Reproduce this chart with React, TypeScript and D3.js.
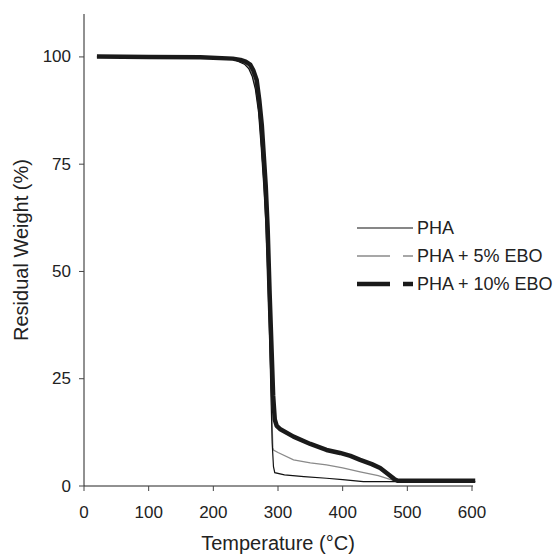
import React from "react";
import * as d3 from "d3";

type Pt = [number, number];

const seriesNames = ["PHA", "PHA + 5% EBO", "PHA + 10% EBO"];

const xTicks = [0, 100, 200, 300, 400, 500, 600];
const yTicks = [0, 25, 50, 75, 100];

const phaData: Pt[] = [
  [20, 100], [100, 99.9], [180, 99.8], [230, 99.5], [248, 98.3], [255, 97.2], [260, 95.5],
  [265, 92.5], [270, 87], [274, 79], [278, 70], [281, 62], [284, 50], [287, 35], [289, 22],
  [291, 10], [293, 4.5], [295, 3.1], [310, 2.6], [340, 2.2], [375, 1.8], [400, 1.5],
  [432, 1.0], [480, 1.0], [605, 1.0],
];

const pha5Data: Pt[] = [
  [20, 100], [100, 99.9], [180, 99.8], [230, 99.6], [248, 98.5], [255, 97.5], [260, 96],
  [265, 93], [270, 88], [274, 80], [278, 72], [281, 64], [284, 53], [287, 38], [289, 25],
  [291, 14], [292, 9], [293, 8.4], [300, 7.8], [324, 6.1], [350, 5.4], [375, 4.9],
  [400, 4.2], [427, 3.3], [455, 2.4], [478, 1.3], [490, 1.1], [605, 1.1],
];

const pha10Data: Pt[] = [
  [20, 100.1], [100, 100.0], [180, 99.9], [230, 99.6], [242, 99.3], [250, 98.9], [257, 98.2],
  [262, 96.8], [267, 94.6], [271, 90], [275, 84], [278, 77], [281, 70], [284, 60], [287, 45],
  [290, 32], [292.5, 21], [295, 15.5], [298, 14], [303, 13.3], [324, 11.5], [350, 9.8],
  [375, 8.4], [396, 7.7], [412, 7.0], [427, 6.1], [445, 5.1], [458, 4.2], [470, 2.8],
  [480, 1.6], [485, 1.2], [605, 1.2],
];

export default function App() {
  const W = 558;
  const H = 556;
  const x = d3.scaleLinear().domain([0, 600]).range([84, 472]);
  const y = d3.scaleLinear().domain([0, 110]).range([486, 14]);
  const line = d3
    .line<Pt>()
    .x((d) => x(d[0]))
    .y((d) => y(d[1]))
    .curve(d3.curveLinear);

  const font = "'Liberation Sans', Arial, sans-serif";
  const textColor = "#222";

  const legendRows = [
    { name: seriesNames[0], color: "#111", width: 1.2, split: false, y: 228 },
    { name: seriesNames[1], color: "#8a8a8a", width: 1.5, split: true, y: 256 },
    { name: seriesNames[2], color: "#1a1a1a", width: 4.5, split: true, y: 284 },
  ];

  return (
    <svg
      width={W}
      height={H}
      style={{ position: "absolute", left: 0, top: 0, background: "#fff" }}
      fontFamily={font}
    >
      <rect x={0} y={0} width={W} height={H} fill="#fff" />
      {/* axes */}
      <line x1={x(0)} x2={x(0)} y1={y(110)} y2={y(0)} stroke="#222" strokeWidth={1} />
      <line x1={x(0)} x2={x(600) + 1} y1={y(0)} y2={y(0)} stroke="#222" strokeWidth={1} />
      {yTicks.map((t) => (
        <g key={"y" + t}>
          <line x1={x(0) - 5} x2={x(0)} y1={y(t)} y2={y(t)} stroke="#444" strokeWidth={1} />
          <text
            x={71}
            y={y(t)}
            textAnchor="end"
            dominantBaseline="central"
            fontSize={17}
            fill={textColor}
          >
            {t}
          </text>
        </g>
      ))}
      {xTicks.map((t) => (
        <g key={"x" + t}>
          <line x1={x(t)} x2={x(t)} y1={y(0)} y2={y(0) + 5} stroke="#444" strokeWidth={1} />
          <text x={x(t)} y={518} textAnchor="middle" fontSize={17} fill={textColor}>
            {t}
          </text>
        </g>
      ))}
      <text x={x(300)} y={550} textAnchor="middle" fontSize={20} fill={textColor}>
        Temperature (°C)
      </text>
      <text
        transform={`translate(28, ${y(55)}) rotate(-90)`}
        textAnchor="middle"
        fontSize={20}
        fill={textColor}
      >
        Residual Weight (%)
      </text>

      {/* series */}
      <path d={line(pha5Data) || ""} fill="none" stroke="#8a8a8a" strokeWidth={1.3} />
      <path d={line(phaData) || ""} fill="none" stroke="#111" strokeWidth={1.2} />
      <path
        d={line(pha10Data) || ""}
        fill="none"
        stroke="#1a1a1a"
        strokeWidth={4.5}
        strokeLinejoin="round"
      />

      {/* legend */}
      {legendRows.map((r) => (
        <g key={r.name}>
          {r.split ? (
            <>
              <line x1={357} x2={390} y1={r.y} y2={r.y} stroke={r.color} strokeWidth={r.width} />
              <line x1={403} x2={413} y1={r.y} y2={r.y} stroke={r.color} strokeWidth={r.width} />
            </>
          ) : (
            <line x1={357} x2={413} y1={r.y} y2={r.y} stroke={r.color} strokeWidth={r.width} />
          )}
          <text x={417} y={r.y} dominantBaseline="central" fontSize={18} fill={textColor}>
            {r.name}
          </text>
        </g>
      ))}
    </svg>
  );
}
